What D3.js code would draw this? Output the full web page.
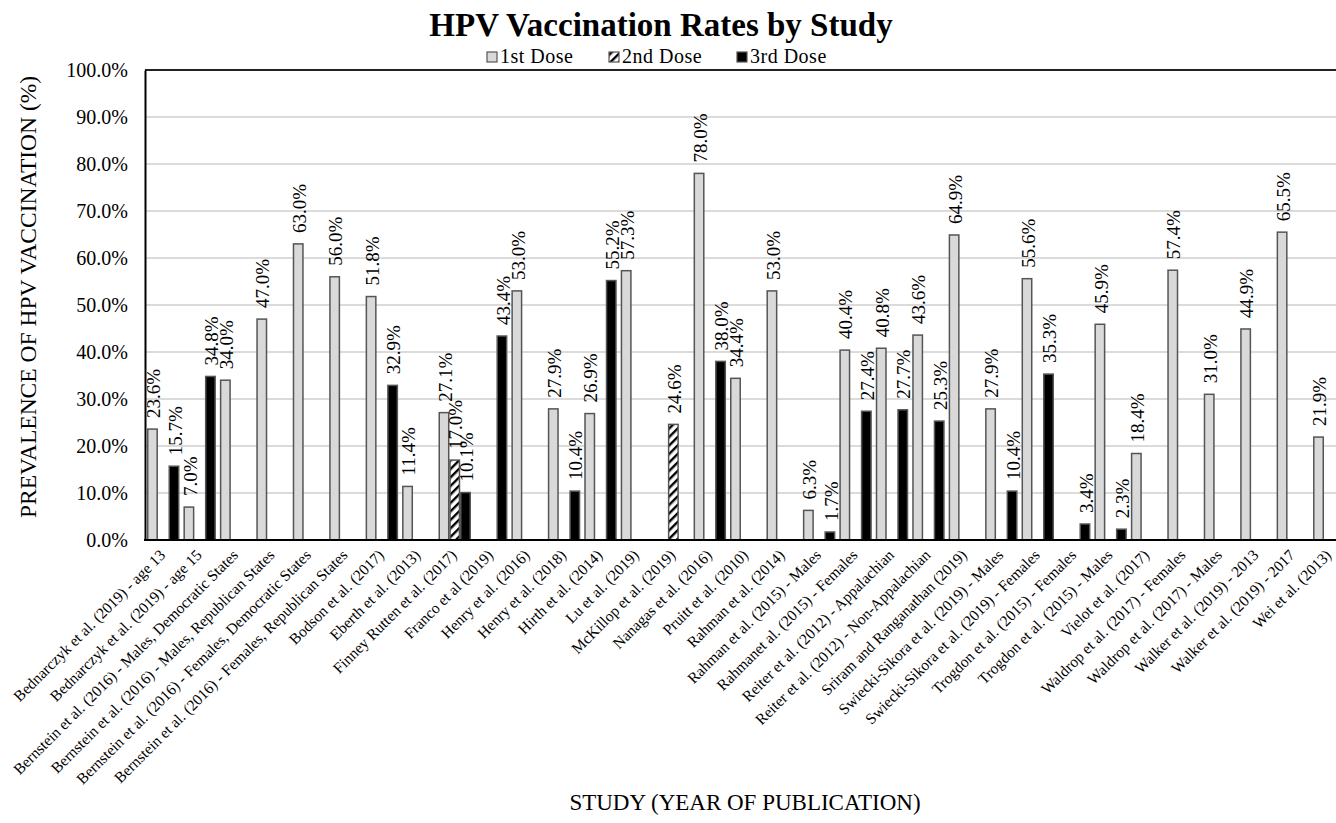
<!DOCTYPE html>
<html lang="en">
<head>
  <meta charset="UTF-8">
  <title>HPV Vaccination Rates by Study</title>
  <style>
    body { margin: 0; background: #fff; overflow: hidden; }
    svg, svg text { font-family: "Liberation Serif", "Times New Roman", serif; }
    svg { display: block; }
  </style>
</head>
<body>
  <script src="https://d3js.org/d3.v7.min.js"></script>
  <script>
    'use strict';

    const studies = [
      'Bednarczyk et al. (2019) - age 13',
      'Bednarczyk et al. (2019) - age 15',
      'Bernstein et al. (2016) - Males, Democratic States',
      'Bernstein et al. (2016) - Males, Republican States',
      'Bernstein et al. (2016) - Females, Democratic States',
      'Bernstein et al. (2016) - Females, Republican States',
      'Bodson et al. (2017)',
      'Eberth et al. (2013)',
      'Finney Rutten et al. (2017)',
      'Franco et al (2019)',
      'Henry et al. (2016)',
      'Henry et al. (2018)',
      'Hirth et al. (2014)',
      'Lu et al. (2019)',
      'McKillop et al. (2019)',
      'Nanagas et al. (2016)',
      'Pruitt et al. (2010)',
      'Rahman et al. (2014)',
      'Rahman et al. (2015) - Males',
      'Rahmanet al. (2015) - Females',
      'Reiter et al. (2012) - Appalachian',
      'Reiter et al. (2012) - Non-Appalachian',
      'Sriram and Ranganathan (2019)',
      'Swiecki-Sikora et al. (2019) - Males',
      'Swiecki-Sikora et al. (2019) - Females',
      'Trogdon et al. (2015) - Females',
      'Trogdon et al. (2015) - Males',
      'Vielot et al. (2017)',
      'Waldrop et al. (2017) - Females',
      'Waldrop et al. (2017) - Males',
      'Walker et al. (2019) - 2013',
      'Walker et al. (2019) - 2017',
      'Wei et al. (2013)'
    ];

    const doseNames = ['1st Dose', '2nd Dose', '3rd Dose'];

    const dose1 = [23.6, 7.0, 34.0, 47.0, 63.0, 56.0, 51.8, 11.4, 27.1, null,
                   53.0, 27.9, 26.9, 57.3, null, 78.0, 34.4, 53.0, 6.3, 40.4,
                   40.8, 43.6, 64.9, 27.9, 55.6, null, 45.9, 18.4, 57.4, 31.0,
                   44.9, 65.5, 21.9];
    const dose2 = [null, null, null, null, null, null, null, null, 17.0, null,
                   null, null, null, null, 24.6, null, null, null, null, null,
                   null, null, null, null, null, null, null, null, null, null,
                   null, null, null];
    const dose3 = [15.7, 34.8, null, null, null, null, 32.9, null, 10.1, 43.4,
                   null, 10.4, 55.2, null, null, 38.0, null, null, 1.7, 27.4,
                   27.7, 25.3, null, 10.4, 35.3, 3.4, 2.3, null, null, null,
                   null, null, null];

    const yTicks = [0, 10, 20, 30, 40, 50, 60, 70, 80, 90, 100];

    const W = 1336, H = 823;
    const plotLeft = 145, plotRight = 1347.5, plotTop = 70, plotBottom = 540;
    const serif = '"Liberation Serif", "Times New Roman", serif';

    const series = [dose1, dose2, dose3];
    const bars = [];
    studies.forEach((s, i) => {
      series.forEach((arr, j) => {
        if (arr[i] != null) bars.push({ study: s, dose: doseNames[j], value: arr[i] });
      });
    });

    const svg = d3.select('body').append('svg')
      .attr('width', W)
      .attr('height', H)
      .attr('font-family', serif);

    // hatch for 2nd dose
    const defs = svg.append('defs');
    const pat = defs.append('pattern')
      .attr('id', 'hatch')
      .attr('patternUnits', 'userSpaceOnUse')
      .attr('width', 6)
      .attr('height', 6)
      .attr('patternTransform', 'rotate(-45)');
    pat.append('rect').attr('width', 6).attr('height', 6).attr('fill', '#fff');
    pat.append('rect').attr('x', 0).attr('y', 1).attr('width', 6).attr('height', 2.4).attr('fill', '#000');

    const x0 = d3.scaleBand()
      .domain(studies)
      .range([plotLeft, plotRight])
      .paddingInner(0.15)
      .paddingOuter(0.075);

    const x1 = d3.scaleBand()
      .domain(doseNames)
      .range([0, x0.bandwidth()])
      .paddingInner(0.12);

    const y = d3.scaleLinear().domain([0, 100]).range([plotBottom, plotTop]);

    const fillOf = {
      '1st Dose': '#d9d9d9',
      '2nd Dose': 'url(#hatch)',
      '3rd Dose': '#000'
    };

    // gridlines
    svg.append('g')
      .selectAll('line')
      .data(yTicks.filter(t => t > 0 && t < 100))
      .join('line')
      .attr('x1', plotLeft)
      .attr('x2', W)
      .attr('y1', d => y(d))
      .attr('y2', d => y(d))
      .attr('stroke', '#cfcfcf')
      .attr('stroke-width', 1.5);

    // top border
    svg.append('line')
      .attr('x1', plotLeft).attr('x2', W)
      .attr('y1', y(100)).attr('y2', y(100))
      .attr('stroke', '#222').attr('stroke-width', 2);

    // bars
    svg.append('g')
      .selectAll('rect')
      .data(bars)
      .join('rect')
      .attr('x', d => x0(d.study) + x1(d.dose))
      .attr('y', d => y(d.value))
      .attr('width', x1.bandwidth())
      .attr('height', d => y(0) - y(d.value))
      .attr('fill', d => fillOf[d.dose])
      .attr('stroke', '#555')
      .attr('stroke-width', 1.5);

    // value labels
    svg.append('g')
      .selectAll('text')
      .data(bars)
      .join('text')
      .attr('transform', d => 'translate(' + (x0(d.study) + x1(d.dose) + x1.bandwidth() / 2 + 1) + ',' + (y(d.value) - 11) + ') rotate(-90)')
      .attr('dy', '0.35em')
      .attr('font-size', '19px')
      .attr('fill', '#000')
      .text(d => d.value.toFixed(1) + '%');

    // y axis
    const yAxis = d3.axisLeft(y)
      .tickValues(yTicks)
      .tickSize(0)
      .tickPadding(17)
      .tickFormat(d => d.toFixed(1) + '%');

    const gy = svg.append('g')
      .attr('transform', 'translate(' + plotLeft + ',0)')
      .call(yAxis)
      .attr('font-family', serif);
    gy.select('.domain').attr('stroke', '#000').attr('stroke-width', 2);
    gy.selectAll('text')
      .attr('font-size', '20px')
      .attr('fill', '#000');

    // x axis line
    svg.append('line')
      .attr('x1', plotLeft - 1).attr('x2', W)
      .attr('y1', y(0)).attr('y2', y(0))
      .attr('stroke', '#000').attr('stroke-width', 2);

    // x labels
    svg.append('g')
      .selectAll('text')
      .data(studies)
      .join('text')
      .attr('transform', d => 'translate(' + (x0(d) + x0.bandwidth() / 2 + 3) + ',' + (plotBottom + 16) + ') rotate(-45)')
      .attr('text-anchor', 'end')
      .attr('font-size', '15.5px')
      .attr('fill', '#000')
      .text(d => d);

    // titles
    svg.append('text')
      .attr('x', 661)
      .attr('y', 36)
      .attr('text-anchor', 'middle')
      .attr('font-size', '33px')
      .attr('font-weight', 'bold')
      .text('HPV Vaccination Rates by Study');

    svg.append('text')
      .attr('transform', 'translate(36,297) rotate(-90)')
      .attr('text-anchor', 'middle')
      .attr('font-size', '23.5px')
      .text('PREVALENCE OF HPV VACCINATION (%)');

    svg.append('text')
      .attr('x', 745)
      .attr('y', 810)
      .attr('text-anchor', 'middle')
      .attr('font-size', '23px')
      .text('STUDY (YEAR OF PUBLICATION)');

    // legend
    const legendX = [487, 609, 737];
    const legend = svg.append('g')
      .selectAll('g')
      .data(doseNames)
      .join('g')
      .attr('transform', (d, i) => 'translate(' + legendX[i] + ',52)');
    legend.append('rect')
      .attr('width', 10).attr('height', 10)
      .attr('fill', d => fillOf[d])
      .attr('stroke', '#555')
      .attr('stroke-width', 1.2);
    legend.append('text')
      .attr('x', 13)
      .attr('y', 11)
      .attr('font-size', '20px')
      .attr('letter-spacing', '0.5px')
      .text(d => d);
  </script>
</body>
</html>
